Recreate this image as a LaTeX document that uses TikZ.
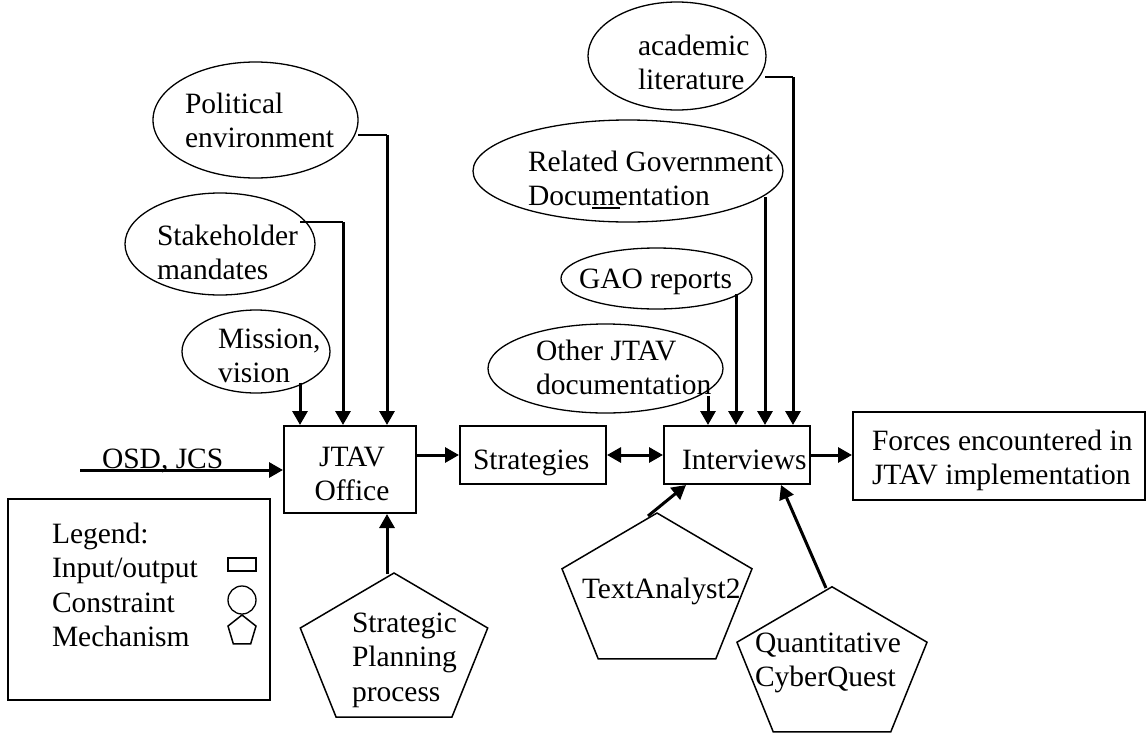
\documentclass[tikz,border=0pt]{standalone}
\usepackage{fontspec}
\setmainfont{Liberation Serif}
\usetikzlibrary{arrows.meta,shapes.geometric,calc}

\begin{document}
\begin{tikzpicture}[x=1pt,y=-1pt,
  every node/.style={font=\fontsize{29.5}{34.5}\selectfont},
  txt/.style={anchor=base west, inner sep=0pt, outer sep=0pt, align=flush left},
  box/.style={draw, line width=2pt, rectangle, inner sep=0pt},
  oval/.style={draw, ellipse, line width=1.3pt, inner sep=0pt},
  flow/.style={line width=3pt, -{Triangle[length=14pt,width=15pt]}},
  both/.style={line width=3pt, {Triangle[length=14pt,width=15pt]}-{Triangle[length=14pt,width=15pt]}},
  feed/.style={line width=1.5pt},
  pentline/.style={line width=1.5pt, line join=miter},
  pent/.pic={\draw[pentline] (0,-1) -- (0.951,-0.309) -- (0.588,0.809)
                 -- (-0.588,0.809) -- (-0.951,-0.309) -- cycle;}
]
\useasboundingbox (0,0) rectangle (1146,734);

% ---------- constraints (ellipses) ----------
\node[oval, minimum width=205, minimum height=116] (pol) at (255.5,120) {};
\node[txt, text width=160] (poltxt) at (185,113) {Political\\environment};
\node[oval, minimum width=190, minimum height=102] (stk) at (220,244) {};
\node[txt, text width=150] (stktxt) at (157,245) {Stakeholder\\mandates};
\node[oval, minimum width=148, minimum height=83] (mis) at (256,351.5) {};
\node[txt, text width=110] (mistxt) at (218,348) {Mission,\\vision};

\node[oval, minimum width=178, minimum height=108] (aca) at (677,56) {};
\node[txt, text width=120] (acatxt) at (638,55) {academic\\literature};
\node[oval, minimum width=310, minimum height=102] (rel) at (628,171) {};
\node[txt, text width=255] (reltxt) at (528,171) {Related Government\\Documentation};
\draw[line width=1.2pt] (592,208) -- (620,208);
\node[oval, minimum width=191, minimum height=61] (gao) at (656.5,278.5) {};
\node[txt] (gaotxt) at (579,288) {GAO reports};
\node[oval, minimum width=235, minimum height=89] (oth) at (605.5,368.5) {};
\node[txt, text width=185] (othtxt) at (536,360) {Other JTAV\\documentation};

% ---------- inputs / outputs (boxes) ----------
\node[box, minimum width=132, minimum height=87] (jtav) at (350,469.5) {};
\node[anchor=base, inner sep=0pt, text width=100, align=flush center] (jtavtxt) at (352,466) {JTAV\\Office};
\node[box, minimum width=146, minimum height=58] (str) at (533,455) {};
\node[txt] (strtxt) at (473,469) {Strategies};
\node[box, minimum width=146, minimum height=58] (int) at (737,455) {};
\node[txt] (inttxt) at (682,469) {Interviews};
\node[box, minimum width=292, minimum height=88] (frc) at (999,456) {};
\node[txt, text width=270] (frctxt) at (872,450) {Forces encountered in\\JTAV implementation};

% ---------- mechanisms (pentagons) ----------
\pic[scale=79.6, xscale=1.238] at (394,652.6) {pent};
\node[txt, text width=115] (sptxt) at (352,632) {Strategic\\Planning\\process};
\pic[scale=80.7, xscale=1.238] at (657,593.7) {pent};
\node[txt] (tatxt) at (582,598) {TextAnalyst2};
\pic[scale=80.2, xscale=1.246] at (832,667) {pent};
\node[txt, text width=165] (cqtxt) at (755,652) {Quantitative\\CyberQuest};

% ---------- legend ----------
\node[box, minimum width=262, minimum height=201] (leg) at (139,599.5) {};
\node[txt, text width=160] (legtxt) at (52,543) {Legend:\\Input/output\\Constraint\\Mechanism};
\node[draw, line width=1.3pt, rectangle, inner sep=0pt, minimum width=28, minimum height=13] (legrect) at (242,564.5) {};
\node[draw, line width=1.3pt, circle, inner sep=0pt, minimum size=28] (legcirc) at (242,600) {};
\pic[scale=16, xscale=0.92] at (242,631) {pent};

% ---------- connector end points ----------
\coordinate (osd) at (80,470);
\coordinate (miso) at ($(mis)+(44,31)$);
\coordinate (stko) at ($(stk)+(80,-22)$);
\coordinate (stkk) at (343,222);
\coordinate (polo) at ($(pol)+(102.5,15)$);
\coordinate (polk) at (387,135);
\coordinate (otho) at ($(oth)+(102.5,27.5)$);
\coordinate (gaoo) at ($(gao)+(79.5,15.5)$);
\coordinate (relo) at ($(rel)+(137,26)$);
\coordinate (acao) at ($(aca)+(88,21)$);
\coordinate (acak) at (793,77);
\coordinate (sptop) at (387,574);
\coordinate (tatop) at (648,516);
\coordinate (cqtop) at (826,588);
\coordinate (tain) at ($(int.south west)+(23,0)$);
\coordinate (cqin) at ($(int.south west)+(118,0)$);

% ---------- connectors into JTAV Office ----------
\draw[flow] (osd) -- (osd -| jtav.west);
\node[txt] (osdtxt) at (102,468) {OSD, JCS};
\draw[flow] (miso) -- (miso |- jtav.north);
\draw[feed] (stko) -- (stkk);
\draw[flow] (stkk) -- (stkk |- jtav.north);
\draw[feed] (polo) -- (polk);
\draw[flow] (polk) -- (polk |- jtav.north);
\draw[flow] (sptop) -- (sptop |- jtav.south);

% ---------- main flow ----------
\draw[flow] (jtav.east |- str.west) -- (str.west);
\draw[both] (str.east) -- (int.west);
\draw[flow] (int.east) -- (int.east -| frc.west);

% ---------- connectors into Interviews ----------
\draw[flow] (otho) -- (otho |- int.north);
\draw[flow] (gaoo) -- (gaoo |- int.north);
\draw[flow] (relo) -- (relo |- int.north);
\draw[feed] (acao) -- (acak);
\draw[flow] (acak) -- (acak |- int.north);
\draw[flow] (tatop) -- (tain);
\draw[flow] (cqtop) -- (cqin);
\end{tikzpicture}
\end{document}
